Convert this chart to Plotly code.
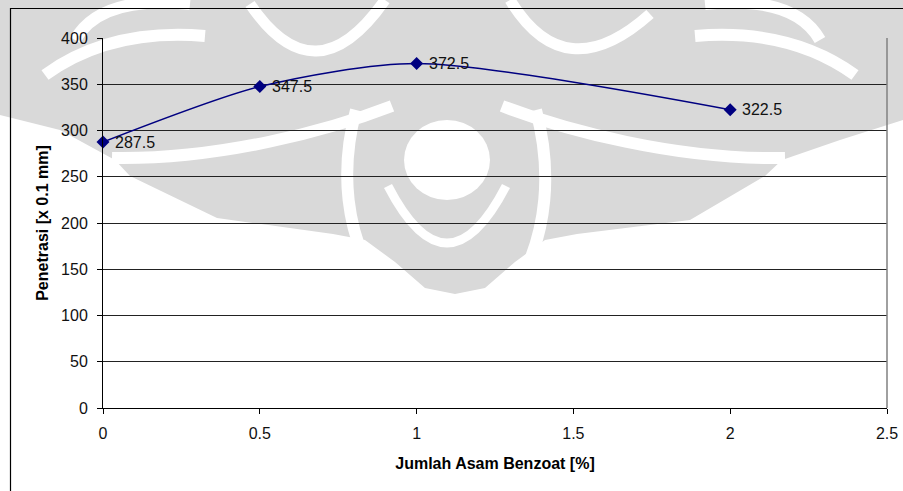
import plotly.graph_objects as go

# Benzoic acid content (%) vs. penetration (x 0.1 mm)
asam_benzoat = [0, 0.5, 1, 2]
penetrasi = [287.5, 347.5, 372.5, 322.5]

x_ticks = [0, 0.5, 1, 1.5, 2, 2.5]
x_ticktext = ["0", "0.5", "1", "1.5", "2", "2.5"]
y_ticks = [0, 50, 100, 150, 200, 250, 300, 350, 400]

W, H = 903, 491
L, R, T, B = 103, 16, 38, 83

FONT = "Liberation Sans, Arial, sans-serif"
NAVY = "#000080"
GREY = "#d9d9d9"

fig = go.Figure()
fig.add_trace(go.Scatter(
    x=asam_benzoat,
    y=penetrasi,
    mode="lines+markers",
    line=dict(color=NAVY, width=1.5, shape="spline", smoothing=0.75),
    marker=dict(symbol="diamond", size=10, color=NAVY),
    cliponaxis=False,
    showlegend=False,
))

# value labels to the right of each point
for xv, yv in zip(asam_benzoat, penetrasi):
    fig.add_annotation(
        x=xv, y=yv, text=f"{yv:g}", showarrow=False,
        xanchor="left", yanchor="middle", xshift=10,
        font=dict(family=FONT, size=16, color="#111111"),
    )


def px_x(p):
    return (p - L) / (W - L - R)


def px_y(p):
    return (H - B - p) / (H - T - B)


def path(cmds):
    """Build an SVG path in paper units from pixel-space commands."""
    out = []
    for c in cmds:
        if isinstance(c, str):
            out.append(c)
        else:
            out.append(f"{px_x(c[0]):.5f},{px_y(c[1]):.5f}")
    return " ".join(out)


def poly(points):
    cmds = ["M", points[0]]
    for p in points[1:]:
        cmds += ["L", p]
    cmds.append("Z")
    return path(cmds)


# faint background ornament
ornament_fill = [
    poly([(0, 0), (903, 0), (903, 120), (840, 140), (782, 160), (765, 176),
          (690, 220), (577, 234), (545, 240), (515, 262), (485, 288),
          (455, 294), (425, 288), (395, 262), (365, 240), (333, 234),
          (217, 218), (130, 176), (115, 160), (60, 130), (0, 115)]),
]
ornament_cut = [
    # inner disc
    ("ellipse", (404, 120, 490, 200)),
    # crescent under the disc
    ("stroke", ["M", (388, 186), "Q", (447, 300), (506, 186)], 9),
    # ring around the central drop
    ("stroke", ["M", (356, 110), "C", (340, 170), (345, 232), (378, 285)], 12),
    ("stroke", ["M", (536, 110), "C", (552, 170), (548, 232), (518, 285)], 12),
    # wing stripes
    ("stroke", ["M", (392, 106), "C", (330, 130), (220, 160), (112, 158)], 12),
    ("stroke", ["M", (502, 106), "C", (565, 130), (675, 160), (785, 158)], 12),
    # upper swirl stripes
    ("stroke", ["M", (45, 75), "Q", (110, 28), (205, 36)], 12),
    ("stroke", ["M", (855, 75), "Q", (790, 28), (695, 36)], 12),
    # upper arcs
    ("stroke", ["M", (250, 4), "Q", (315, 100), (385, 0)], 11),
    ("stroke", ["M", (510, 0), "Q", (565, 90), (650, 14)], 11),
    # top hooks
    ("stroke", ["M", (75, 40), "Q", (100, -5), (190, 4)], 12),
    ("stroke", ["M", (820, 40), "Q", (795, -5), (705, 4)], 12),
]

for d in ornament_fill:
    fig.add_shape(type="path", xref="paper", yref="paper", path=d,
                  fillcolor=GREY, line=dict(width=0), layer="below")
for item in ornament_cut:
    if item[0] == "ellipse":
        x0, y0, x1, y1 = item[1]
        fig.add_shape(type="circle", xref="paper", yref="paper",
                      x0=px_x(x0), x1=px_x(x1), y0=px_y(y1), y1=px_y(y0),
                      fillcolor="#ffffff", line=dict(width=0), layer="below")
    else:
        fig.add_shape(type="path", xref="paper", yref="paper",
                      path=path(item[1]), fillcolor="rgba(0,0,0,0)",
                      line=dict(color="#ffffff", width=item[2]),
                      layer="below")

# right edge of the plot area
fig.add_shape(type="line", xref="paper", yref="paper",
              x0=1, x1=1, y0=0, y1=1,
              line=dict(color="#808080", width=1.5))

# outer chart frame: left and top edges
fig.add_shape(type="line", xref="paper", yref="paper",
              x0=px_x(10.5), x1=px_x(10.5), y0=px_y(8), y1=px_y(495),
              line=dict(color="#000000", width=1.2))
fig.add_shape(type="line", xref="paper", yref="paper",
              x0=px_x(10), x1=px_x(905), y0=px_y(8.5), y1=px_y(8.5),
              line=dict(color="#000000", width=1.2))

fig.update_layout(
    width=W, height=H,
    margin=dict(l=L, r=R, t=T, b=B, autoexpand=False),
    paper_bgcolor="#ffffff",
    plot_bgcolor="rgba(0,0,0,0)",
    font=dict(family=FONT, size=16, color="#000000"),
    xaxis=dict(
        range=[0, 2.5], automargin=False,
        tickvals=x_ticks, ticktext=x_ticktext,
        ticks="outside", ticklen=5, tickcolor="#000000",
        showgrid=False, zeroline=False,
        showline=True, linecolor="#000000", linewidth=1,
        tickfont=dict(family=FONT, size=16, color="#111111"),
        ticklabelstandoff=6,
        title=dict(text="<b>Jumlah Asam Benzoat [%]</b>",
                   font=dict(family=FONT, size=16), standoff=16),
    ),
    yaxis=dict(
        range=[0, 400], automargin=False,
        tickvals=y_ticks,
        ticks="outside", ticklen=5, tickcolor="#000000",
        showgrid=True, gridcolor="#222222", gridwidth=1,
        zeroline=False,
        showline=True, linecolor="#000000", linewidth=1,
        tickfont=dict(family=FONT, size=16, color="#111111"),
        ticklabelstandoff=6,
        title=dict(text="<b>Penetrasi [x 0.1 mm]</b>",
                   font=dict(family=FONT, size=16), standoff=8),
    ),
)

fig.write_html("out.html")
